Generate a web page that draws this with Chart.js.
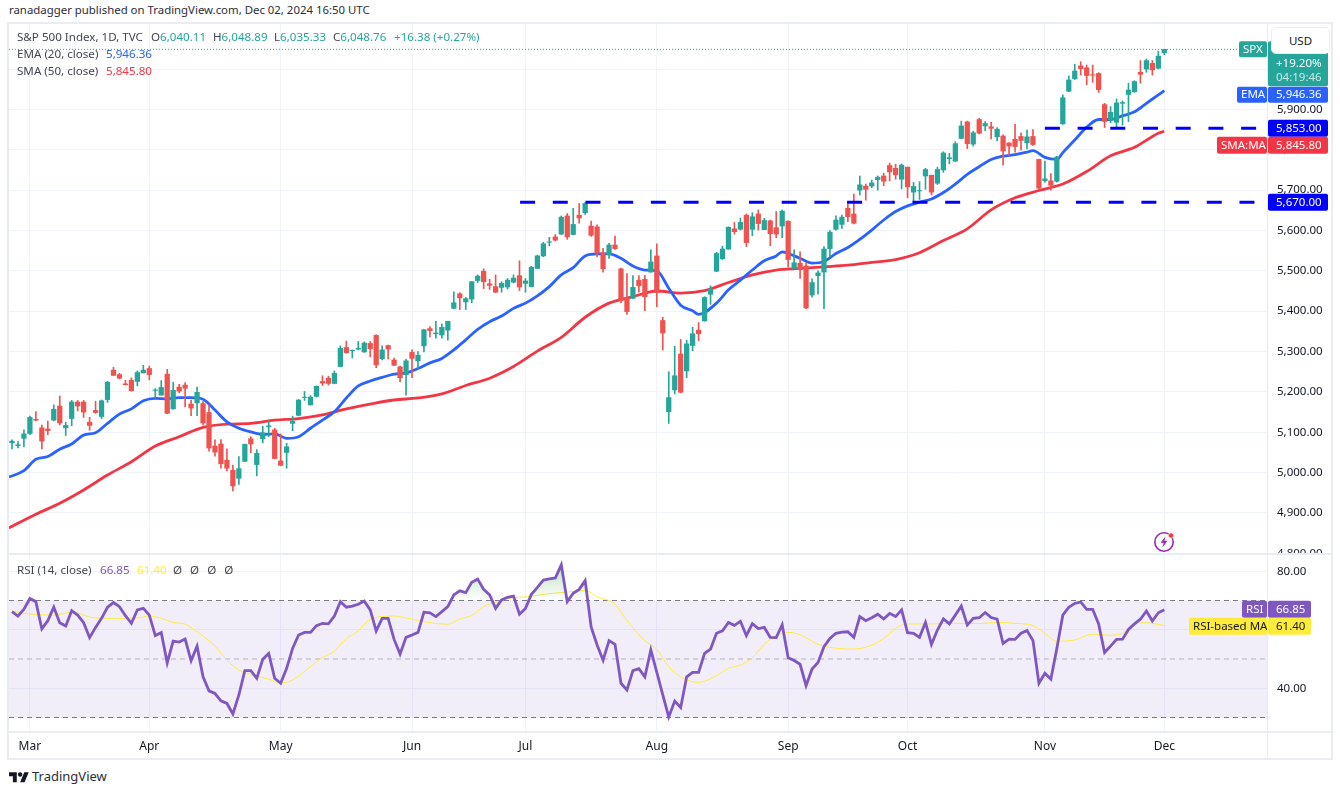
<!DOCTYPE html>
<html>
<head>
<meta charset="utf-8">
<title>S&amp;P 500 Index</title>
<script src="https://cdn.jsdelivr.net/npm/chart.js@4/dist/chart.umd.min.js"></script>
<style>
  html, body { margin: 0; padding: 0; background: #fff; }
  body { width: 1340px; height: 791px; position: relative; overflow: hidden;
         font-family: "Noto Sans", sans-serif; font-size: 11.6px; color: #131722; }
  canvas { position: absolute; display: block; }
  #mainChart { left: 9px; top: 24px; }
  #rsiChart  { left: 9px; top: 555px; }
  .abs { position: absolute; white-space: nowrap; line-height: 14px; }
  .frame { position: absolute; background: #e9ecf3; }
  .up { color: #26a69a; }
  .lbl { color: #434651; }
  #usd { left: 1271px; top: 27px; width: 57px; height: 25px; line-height: 25px; text-align: center;
         background: #fff; border: 1px solid #e9ecf3; border-radius: 5px; font-size: 11.5px; }
</style>
</head>
<body>
<div class="abs" style="left:9px;top:3px;font-size:11.4px;color:#2a2e39">ranadagger published on TradingView.com, Dec 02, 2024 16:50 UTC</div>

<canvas id="mainChart" width="1322" height="530"></canvas>
<canvas id="rsiChart" width="1322" height="204"></canvas>

<div class="frame" style="left:8px;top:22px;width:1324px;height:2px"></div>
<div class="frame" style="left:8px;top:553px;width:1324px;height:2px"></div>
<div class="frame" style="left:8px;top:731px;width:1324px;height:2px"></div>
<div class="frame" style="left:8px;top:758px;width:1324px;height:2px"></div>
<div class="frame" style="left:7px;top:22px;width:2px;height:738px"></div>
<div class="frame" style="left:1331px;top:22px;width:2px;height:738px"></div>
<div class="frame" style="left:1267px;top:22px;width:1px;height:738px"></div>

<div class="abs" style="left:17px;top:30px"><span class="lbl">S&amp;P 500 Index, 1D, TVC</span></div>
<div class="abs" style="left:151px;top:30px"><span class="lbl">O</span><span class="up">6,040.11</span></div>
<div class="abs" style="left:213px;top:30px"><span class="lbl">H</span><span class="up">6,048.89</span></div>
<div class="abs" style="left:274px;top:30px"><span class="lbl">L</span><span class="up">6,035.33</span></div>
<div class="abs" style="left:333px;top:30px"><span class="lbl">C</span><span class="up">6,048.76</span></div>
<div class="abs up" style="left:394px;top:30px">+16.38 (+0.27%)</div>
<div class="abs" style="left:17px;top:47px"><span class="lbl">EMA (20, close)</span></div>
<div class="abs" style="left:106px;top:47px;color:#2962ff">5,946.36</div>
<div class="abs" style="left:17px;top:64px"><span class="lbl">SMA (50, close)</span></div>
<div class="abs" style="left:106px;top:64px;color:#f23645">5,845.80</div>
<div class="abs" style="left:17px;top:563px"><span class="lbl">RSI (14, close)</span></div>
<div class="abs" style="left:100px;top:563px;color:#7e57c2">66.85</div>
<div class="abs" style="left:137px;top:563px;color:#ffeb3b">61.40</div>
<div class="abs lbl" style="left:173px;top:563px;word-spacing:5px">Ø Ø Ø Ø</div>

<div class="abs" id="usd">USD</div>

<svg class="abs" style="left:1153px;top:530px" width="24" height="24" viewBox="0 0 24 24">
  <circle cx="11" cy="12" r="9.2" fill="none" stroke="#9c27b0" stroke-width="1.6"/>
  <path d="M12.5 6.5 L7.5 12.8 H10.6 L9.4 17.5 L14.6 10.8 H11.4 Z" fill="#9c27b0"/>
  <circle cx="18" cy="5.5" r="2.6" fill="#f23645" stroke="#fff" stroke-width="0.6"/>
</svg>

<svg class="abs" style="left:9px;top:771px" width="20" height="12" viewBox="0 2 36 21">
  <path fill="#131722" d="M14 22H7V11H0V4h14v18zM28 22h-8l7.5-18h8L28 22z"/>
  <circle fill="#131722" cx="20" cy="8" r="4"/>
</svg>
<div class="abs" style="left:32px;top:769px;font-size:13px;color:#2a2e39">TradingView</div>

<script>
/* ── Candles, Feb 27 to Dec 2 2024 ── */
const opens = [
  5074,5067,5085,5097,5132,5111,5108,5130,5165,5111,
  5134,5175,5175,5125,5154,5139,5181,5254,5243,5220,
  5229,5226,5247,5258,5204,5192,5244,5158,5212,5217,
  5170,5173,5171,5149,5066,5071,5031,5006,4986,5028,
  5084,5020,5084,5114,5106,5029,5050,5122,5142,5186,
  5168,5189,5226,5234,5221,5263,5310,5302,5306,5299,
  5320,5340,5282,5315,5279,5262,5243,5298,5277,5314,
  5357,5344,5341,5353,5407,5443,5423,5430,5476,5499,
  5468,5461,5459,5460,5472,5488,5469,5461,5506,5537,
  5571,5584,5591,5636,5590,5638,5644,5611,5609,5545,
  5540,5564,5505,5432,5432,5477,5479,5497,5537,5377,
  5151,5205,5294,5252,5315,5353,5376,5442,5499,5530,
  5554,5604,5603,5638,5603,5641,5602,5624,5607,5611,
  5623,5506,5519,5512,5440,5488,5497,5555,5603,5615,
  5655,5641,5700,5710,5710,5726,5735,5761,5754,5727,
  5757,5695,5698,5735,5737,5717,5750,5778,5772,5828,
  5869,5814,5875,5859,5857,5832,5834,5817,5826,5833,
  5817,5833,5776,5723,5723,5722,5864,5945,5976,6008,
  6003,5986,5989,5912,5874,5868,5915,5937,5944,5992,
  6000,6014,6002,6040.11
];
const highs = [
  5081,5077,5106,5140,5151,5118,5128,5168,5190,5125,
  5179,5179,5179,5137,5177,5180,5226,5261,5246,5229,
  5235,5252,5266,5264,5208,5228,5256,5224,5219,5223,
  5180,5212,5176,5168,5081,5082,5059,5019,5040,5071,
  5089,5057,5115,5128,5110,5096,5073,5140,5181,5201,
  5191,5215,5240,5239,5252,5314,5326,5304,5325,5324,
  5325,5342,5314,5316,5284,5264,5281,5304,5300,5355,
  5362,5375,5368,5375,5448,5446,5434,5474,5490,5505,
  5479,5490,5473,5481,5490,5525,5481,5511,5539,5571,
  5583,5590,5636,5642,5655,5667,5669,5623,5614,5556,
  5568,5586,5507,5493,5488,5488,5489,5552,5567,5385,
  5250,5313,5330,5328,5360,5372,5436,5463,5546,5561,
  5609,5620,5631,5641,5644,5651,5630,5626,5647,5651,
  5624,5552,5547,5520,5480,5500,5560,5600,5636,5638,
  5670,5690,5735,5715,5725,5735,5742,5767,5764,5765,
  5757,5719,5721,5754,5737,5757,5795,5791,5820,5871,
  5871,5846,5878,5870,5868,5855,5837,5817,5863,5842,
  5849,5850,5777,5772,5741,5784,5936,5983,6012,6018,
  6010,6010,5991,5915,5907,5926,5921,5965,5971,6021,
  6025,6021,6044,6048.89
];
const lows = [
  5059,5061,5064,5094,5128,5059,5094,5128,5118,5092,
  5116,5153,5137,5105,5147,5134,5174,5240,5232,5217,
  5202,5215,5247,5230,5185,5192,5146,5157,5198,5163,
  5141,5141,5118,5053,5041,5011,5004,4955,4971,5027,
  5049,4992,5074,5089,5034,5017,5011,5104,5141,5179,
  5167,5187,5216,5217,5220,5262,5296,5284,5304,5298,
  5287,5260,5279,5282,5265,5225,5192,5235,5258,5299,
  5336,5333,5333,5328,5406,5404,5404,5421,5471,5456,
  5454,5446,5447,5455,5470,5451,5447,5460,5505,5535,
  5562,5574,5590,5578,5589,5618,5640,5585,5535,5497,
  5531,5553,5421,5392,5431,5447,5401,5497,5411,5304,
  5122,5195,5198,5235,5302,5327,5375,5417,5498,5528,
  5553,5591,5601,5560,5587,5601,5602,5562,5582,5582,
  5509,5505,5481,5406,5435,5442,5406,5535,5601,5605,
  5622,5616,5688,5675,5706,5700,5711,5723,5727,5703,
  5681,5671,5677,5702,5688,5714,5744,5765,5771,5827,
  5803,5809,5839,5847,5827,5822,5762,5785,5794,5799,
  5802,5811,5702,5720,5700,5720,5863,5944,5974,5985,
  5961,5967,5942,5855,5867,5855,5861,5870,5942,5965,
  5992,5985,6000,6035.33
];
const closes = [
  5078,5069,5096,5137,5130,5078,5104,5157,5123,5117,
  5175,5165,5150,5117,5149,5178,5224,5241,5234,5218,
  5203,5248,5254,5243,5205,5211,5147,5204,5202,5209,
  5160,5199,5123,5061,5051,5022,5011,4967,5010,5070,
  5071,5048,5099,5116,5035,5018,5064,5127,5180,5187,
  5187,5214,5222,5221,5246,5308,5297,5303,5308,5321,
  5307,5267,5304,5306,5266,5235,5277,5283,5291,5354,
  5352,5346,5360,5375,5421,5433,5431,5473,5487,5473,
  5464,5447,5469,5477,5482,5460,5475,5509,5537,5567,
  5572,5576,5633,5584,5615,5631,5667,5588,5544,5505,
  5564,5555,5427,5399,5459,5463,5436,5522,5446,5346,
  5186,5240,5199,5319,5344,5344,5434,5455,5543,5554,
  5608,5597,5620,5570,5634,5617,5625,5592,5591,5648,
  5528,5520,5503,5408,5471,5495,5554,5596,5626,5633,
  5634,5618,5713,5702,5718,5732,5722,5745,5738,5762,
  5708,5709,5699,5751,5695,5751,5792,5780,5815,5859,
  5815,5842,5841,5865,5853,5851,5797,5809,5808,5823,
  5832,5813,5705,5728,5712,5782,5929,5973,5995,6001,
  5984,5985,5949,5870,5893,5916,5917,5948,5969,5987,
  6021,5998,6032,6048.76
];

/* ── EMA 20 / SMA 50, read at these bars (-0.5 is the left edge of the pane) ── */
const emaBars = [-0.5,2,4,6,8,10,12,14,16,18,20,22,24,26,28,30,32,34,36,38,40,42,44,46,48,50,52,54,56,58,60,62,64,66,68,70,72,74,76,78,80,82,84,86,88,90,92,94,96,98,100,102,104,106,108,110,112,114,115,118,120,122,124,126,128,129,130,132,134,136,138,140,142,144,146,148,150,152,154,156,158,160,162,164,166,168,170,171,173,175,176,178,180,182,184,186,188,190,192,193];
const emaValues = [4989,5005,5033,5040,5058,5071,5093,5099,5122,5145,5158,5178,5184,5183,5186,5186,5182,5155,5126,5110,5101,5095,5096,5085,5089,5110,5130,5151,5185,5215,5227,5236,5244,5247,5258,5272,5283,5304,5329,5355,5374,5388,5407,5420,5438,5461,5490,5508,5537,5542,5542,5531,5512,5502,5500,5457,5415,5401,5392,5420,5453,5477,5502,5525,5537,5547,5543,5531,5519,5523,5543,5558,5578,5601,5626,5647,5661,5670,5678,5694,5715,5739,5758,5776,5784,5788,5794,5798,5781,5776,5793,5824,5856,5875,5875,5884,5894,5915,5936,5946.36];
const smaBars = [-0.5,4,8,12,16,20,24,28,32,36,40,44,48,52,56,60,64,68,72,76,80,84,88,92,96,100,104,108,112,116,120,124,128,132,136,140,144,148,152,156,160,164,168,172,176,180,184,188,192,193];
const smaValues = [4863,4897,4924,4957,4994,5027,5066,5089,5112,5120,5122,5130,5134,5143,5158,5170,5180,5185,5195,5216,5234,5263,5301,5335,5385,5420,5436,5450,5445,5451,5471,5490,5502,5506,5510,5514,5521,5528,5545,5575,5604,5651,5681,5699,5715,5746,5785,5806,5841,5845.8];

/* ── RSI 14 for every bar, and its moving average ── */
const rsiValues = [
  66.2,64.7,67.0,70.7,69.6,60.3,63.1,67.7,62.4,61.3,66.5,65.0,62.4,57.3,60.8,63.9,67.7,69.3,67.9,64.8,
  62.2,66.8,67.3,65.0,58.0,59.0,48.7,56.1,55.8,56.8,49.4,54.4,43.9,39.1,38.2,35.7,34.8,31.2,37.7,46.0,
  46.0,43.4,49.9,51.9,43.4,41.7,46.8,53.6,58.2,59.1,59.1,61.4,62.2,62.0,64.7,69.6,67.7,68.1,68.7,69.8,
  66.8,59.6,63.9,63.9,56.7,51.7,57.4,58.2,59.1,66.0,65.8,64.5,66.2,67.9,
  71.9,73.3,72.7,76.2,77.3,73.8,71.9,67.3,70.2,71.1,71.5,65.3,67.3,72.1,74.5,77.0,77.4,77.7,82.2,69.6,
  72.5,73.8,76.8,61.0,54.8,49.6,56.3,55.0,41.7,39.4,46.0,46.7,43.9,53.1,45.4,37.7,30.2,35.6,33.4,43.9,
  45.4,45.4,51.9,53.4,58.8,59.6,62.5,61.5,62.9,58.0,62.1,60.4,60.8,57.4,57.3,61.7,50.4,49.5,48.2,40.9,
  46.6,48.8,54.2,57.0,58.8,59.2,59.3,57.4,64.5,63.1,64.1,65.3,63.7,65.6,64.5,
  66.8,59.0,58.8,57.4,62.5,55.0,59.9,63.7,62.0,65.0,68.1,61.6,63.9,64.1,65.9,64.2,63.6,55.3,56.8,56.7,
  58.8,59.7,56.3,41.7,45.1,43.1,53.6,65.0,67.7,69.0,69.5,67.0,67.0,62.0,52.2,54.4,56.7,56.8,60.1,62.0,
  63.6,66.4,63.0,65.8,66.85
];
const rsiMaBars = [0,3,7,10,14,18,21,23,25,27,29,31,34,36,38,40,43,45,47,50,52,54,56,58,60,62,64,67,70,73,75,77,79,81,84,86,89,92,96,98,101,103,106,108,110,112,115,118,120,122,124,126,128,130,132,135,137,140,143,146,148,150,154,158,162,165,168,171,173,175,178,181,184,186,188,190,193];
const rsiMaValues = [66.4,65.4,65.0,66.0,64.0,63.9,64.0,64.7,63.9,62.5,61.9,59.3,54.4,49.6,46.2,44.7,43.1,41.8,42.8,47.4,50.5,52.7,57.0,59.6,63.6,64.5,64.7,63.6,62.4,61.9,63.7,64.9,67.9,69.4,71.0,71.2,72.1,72.7,73.4,71.3,68.7,63.1,56.3,53.3,47.4,43.9,42.0,44.3,46.8,47.9,50.4,55.1,57.9,59.1,58.3,55.0,54.0,53.4,54.0,57.0,60.5,62.0,62.0,62.2,62.1,62.5,62.2,61.4,58.8,56.1,56.5,58.5,58.1,58.8,61.9,62.4,61.4];

/* ── Axes and levels ── */
const monthBars   = [3,23,45,67,86,108,130,150,173,193];
const monthLabels = ['Mar','Apr','May','Jun','Jul','Aug','Sep','Oct','Nov','Dec'];
const priceTicks  = [4800,4900,5000,5100,5200,5300,5400,5500,5600,5700,5800,5900,6000];
const rsiTicks    = [40,60,80];
const supportFrom = 85.1, supportLevel = 5670;
const resistFrom  = 173,  resistLevel  = 5853;
const lastPrice   = 6048.76;

const GREEN = '#26a69a', RED = '#ef5350', GRID = '#f0f3fa';
const FONT  = '"Noto Sans", sans-serif';
const X_MIN = -0.5, X_MAX = 210.2;

const pts = (xs, ys) => xs.map((x, i) => ({ x, y: ys[i] }));
const barIndex = closes.map((_, i) => i);
const candleColor = closes.map((c, i) => (c >= opens[i] ? GREEN : RED));

function xScaleOptions(showLabels) {
  return {
    type: 'linear', min: X_MIN, max: X_MAX, offset: false,
    afterBuildTicks: s => { s.ticks = monthBars.map(value => ({ value })); },
    grid: { color: GRID, drawTicks: false, offset: false },
    border: { display: false },
    ticks: {
      display: showLabels, autoSkip: false, maxRotation: 0, padding: 7,
      color: '#131722', font: { family: FONT, size: 12 },
      callback: v => monthLabels[monthBars.indexOf(v)]
    },
    afterFit: s => { if (showLabels) s.height = 27; }
  };
}

function yScaleOptions(min, max, ticks, fmt) {
  return {
    position: 'right', min, max,
    afterBuildTicks: s => { s.ticks = ticks.map(value => ({ value })); },
    afterFit: s => { s.width = 64; s.paddingTop = 0; s.paddingBottom = 0; },
    grid: { color: GRID, drawTicks: false },
    border: { display: false },
    ticks: {
      autoSkip: false, padding: 10, color: '#131722', align: 'center',
      font: { family: FONT, size: 11.5 }, callback: fmt
    }
  };
}

const money = v => v.toLocaleString('en-US', { minimumFractionDigits: 2, maximumFractionDigits: 2 });

/* ── Price tags on the right axis ── */
function tag(ctx, x, y, w, h, bg, fg, text, opts = {}) {
  ctx.fillStyle = bg;
  ctx.beginPath();
  ctx.roundRect(x, y, w, h, 2);
  ctx.fill();
  ctx.fillStyle = fg;
  ctx.font = `${opts.size || 11.5}px ${FONT}`;
  ctx.textAlign = 'left';
  ctx.textBaseline = 'middle';
  ctx.fillText(text, x + (opts.pad || 8), y + h / 2 + 0.5);
}

const mainTags = {
  id: 'mainTags',
  afterDraw(chart) {
    const { ctx, scales: { y } } = chart;
    const ax = y.left + 1;              // right edge of the plot
    const yOf = v => y.getPixelForValue(v);
    ctx.save();

    const top = yOf(lastPrice);
    tag(ctx, ax - 29, top - 8, 28, 16, GREEN, '#fff', 'SPX', { pad: 4 });
    tag(ctx, ax, top - 8, 60, 45, GREEN, '#fff', '', {});
    ctx.fillStyle = '#fff';
    ctx.fillText('+19.20%', ax + 8, top + 14);
    ctx.fillStyle = 'rgba(255,255,255,.75)';
    ctx.fillText('04:19:46', ax + 8, top + 28);

    const emaY = yOf(5946.36) + 4;
    tag(ctx, ax - 31, emaY - 8, 30, 16, '#2962ff', '#fff', 'EMA', { pad: 4 });
    tag(ctx, ax, emaY - 8, 60, 16, '#2962ff', '#fff', '5,946.36');

    tag(ctx, ax, yOf(resistLevel) - 8.5, 60, 17, '#0000ff', '#fff', '5,853.00');

    const smaY = yOf(5845.8) + 14;
    tag(ctx, ax - 51, smaY - 8.5, 50, 17, '#f23645', '#fff', 'SMA:MA', { pad: 4 });
    tag(ctx, ax, smaY - 8.5, 60, 17, '#f23645', '#fff', '5,845.80');

    tag(ctx, ax, yOf(supportLevel) - 8.5, 60, 17, '#0000ff', '#fff', '5,670.00');
    ctx.restore();
  }
};

const rsiTags = {
  id: 'rsiTags',
  afterDraw(chart) {
    const { ctx, scales: { y } } = chart;
    const ax = y.left + 1;
    ctx.save();
    const rsiY = y.getPixelForValue(66.85) - 0.5;
    tag(ctx, ax - 26, rsiY - 8.5, 25, 17, '#7e57c2', '#fff', 'RSI', { pad: 4 });
    tag(ctx, ax, rsiY - 8.5, 43, 17, '#7e57c2', '#fff', '66.85');
    const maY = rsiY + 17;
    tag(ctx, ax - 79, maY - 8.5, 78, 17, '#ffeb3b', '#131722', 'RSI-based MA', { pad: 4 });
    tag(ctx, ax, maY - 8.5, 43, 17, '#ffeb3b', '#131722', '61.40');
    ctx.restore();
  }
};

/* ── Main pane ── */
new Chart(document.getElementById('mainChart'), {
  type: 'bar',
  data: {
    datasets: [
      { type: 'line', data: pts([supportFrom, X_MAX], [supportLevel, supportLevel]), borderColor: '#0000ff', borderWidth: 3, borderDash: [15, 17.7], pointRadius: 0, order: 1 },
      { type: 'line', data: pts([resistFrom, X_MAX], [resistLevel, resistLevel]), borderColor: '#0000ff', borderWidth: 3, borderDash: [15, 17.7], pointRadius: 0, order: 1 },
      { type: 'line', data: pts([X_MIN, X_MAX], [lastPrice, lastPrice]), borderColor: GREEN, borderWidth: 1, borderDash: [1, 2], pointRadius: 0, order: 1 },
      { data: pts(barIndex, barIndex.map(i => [opens[i], closes[i]])), backgroundColor: candleColor, barThickness: 4.6, grouped: false, order: 2 },
      { data: pts(barIndex, barIndex.map(i => [lows[i], highs[i]])), backgroundColor: candleColor, barThickness: 1, grouped: false, order: 3 },
      { type: 'line', data: pts(emaBars, emaValues), borderColor: '#2962ff', borderWidth: 2.8, pointRadius: 0, cubicInterpolationMode: 'monotone', order: 4 },
      { type: 'line', data: pts(smaBars, smaValues), borderColor: '#f23645', borderWidth: 2.8, pointRadius: 0, cubicInterpolationMode: 'monotone', order: 4 }
    ]
  },
  options: {
    responsive: false, animation: false, devicePixelRatio: 1,
    layout: { padding: 0 },
    plugins: { legend: { display: false }, tooltip: { enabled: false } },
    scales: { x: xScaleOptions(false), y: yScaleOptions(4798.4, 6111.6, priceTicks, money) }
  },
  plugins: [mainTags]
});

/* ── RSI pane ── */
const rsiCanvas = document.getElementById('rsiChart');
const overbought = rsiCanvas.getContext('2d').createLinearGradient(0, 12, 0, 46);
overbought.addColorStop(0, 'rgba(76,175,80,.35)');
overbought.addColorStop(1, 'rgba(76,175,80,0)');

new Chart(rsiCanvas, {
  type: 'line',
  data: {
    datasets: [
      { data: pts([X_MIN, X_MAX], [70, 70]), borderColor: '#787b86', borderWidth: 1, borderDash: [5, 4], pointRadius: 0, fill: '+1', backgroundColor: 'rgba(126,87,194,.1)', order: 5 },
      { data: pts([X_MIN, X_MAX], [30, 30]), borderColor: '#787b86', borderWidth: 1, borderDash: [5, 4], pointRadius: 0, order: 5 },
      { data: pts([X_MIN, X_MAX], [50, 50]), borderColor: 'rgba(120,123,134,.5)', borderWidth: 1, borderDash: [5, 4], pointRadius: 0, order: 5 },
      { data: pts(rsiMaBars, rsiMaValues), borderColor: '#ffeb3b', borderWidth: 1, pointRadius: 0, cubicInterpolationMode: 'monotone', order: 2 },
      { data: pts(barIndex, rsiValues), borderColor: '#7e57c2', borderWidth: 2.8, pointRadius: 0, tension: 0, order: 1,
        fill: { target: { value: 70 }, above: overbought, below: 'rgba(0,0,0,0)' } }
    ]
  },
  options: {
    responsive: false, animation: false, devicePixelRatio: 1,
    layout: { padding: 0 },
    plugins: { legend: { display: false }, tooltip: { enabled: false } },
    scales: { x: xScaleOptions(true), y: yScaleOptions(25.04, 85.56, rsiTicks, v => v.toFixed(2)) }
  },
  plugins: [rsiTags]
});
</script>
</body>
</html>
